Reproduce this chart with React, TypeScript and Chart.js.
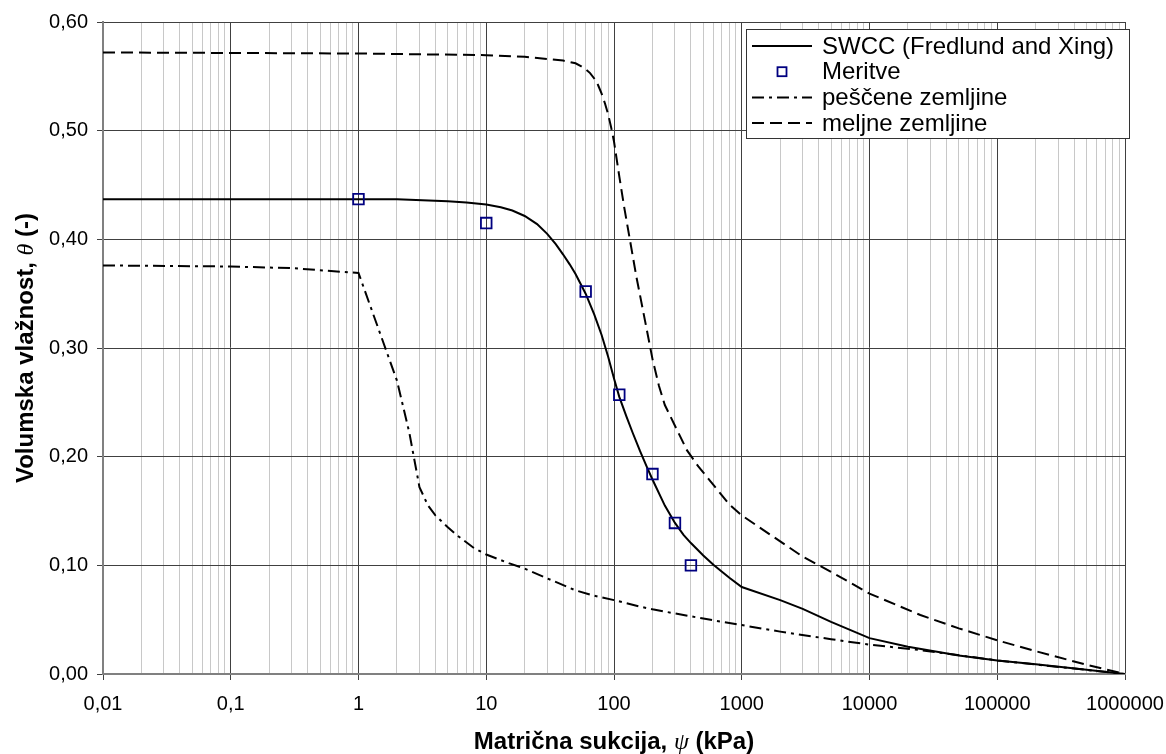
import React, { useEffect, useRef } from 'react';
import { Chart, registerables } from 'chart.js';

Chart.register(...registerables);

// ---- data ----
const swccX = [0.01, 0.1, 1, 2, 5, 7, 10, 13, 16, 20, 25, 30, 35, 40, 45, 50, 60, 70, 80, 90, 100, 110, 125, 140, 160, 180, 200, 250, 300, 350, 400, 500, 600, 700, 800, 1000, 2000, 3000, 5000, 10000, 20000, 50000, 100000, 200000, 500000, 1000000];
const swccY = [0.437, 0.437, 0.437, 0.437, 0.435, 0.434, 0.432, 0.4295, 0.4265, 0.4215, 0.414, 0.405, 0.3955, 0.386, 0.377, 0.368, 0.350, 0.331, 0.312, 0.292, 0.272, 0.255, 0.237, 0.222, 0.205, 0.191, 0.179, 0.155, 0.139, 0.128, 0.1205, 0.109, 0.1005, 0.094, 0.0885, 0.080, 0.068, 0.060, 0.048, 0.033, 0.025, 0.017, 0.0125, 0.009, 0.004, 0];

const merX = [1, 10, 60, 110, 200, 300, 400];
const merY = [0.437, 0.415, 0.352, 0.257, 0.184, 0.139, 0.100];

const sandX = [0.01, 0.1, 0.3, 1, 2, 2.5, 3, 3.5, 4, 5, 6, 8, 10, 15, 20, 30, 50, 70, 100, 160, 200, 500, 1000, 2000, 5000, 10000, 25000, 100000, 1000000];
const sandY = [0.376, 0.375, 0.3735, 0.369, 0.27, 0.222, 0.172, 0.155, 0.146, 0.135, 0.127, 0.116, 0.110, 0.102, 0.097, 0.088, 0.077, 0.072, 0.068, 0.062, 0.0595, 0.051, 0.045, 0.039, 0.032, 0.027, 0.022, 0.0125, 0];

const siltX = [0.01, 0.1, 1, 10, 20, 30, 40, 50, 55, 60, 65, 70, 75, 80, 85, 90, 95, 100, 110, 120, 133, 150, 175, 200, 225, 250, 300, 372, 457, 600, 800, 1000, 2000, 3000, 5000, 10000, 25000, 50000, 100000, 200000, 500000, 1000000];
const siltY = [0.572, 0.5715, 0.571, 0.5695, 0.568, 0.566, 0.5645, 0.562, 0.5595, 0.5565, 0.553, 0.548, 0.542, 0.534, 0.525, 0.515, 0.503, 0.490, 0.458, 0.43, 0.40, 0.365, 0.325, 0.290, 0.265, 0.2475, 0.2285, 0.206, 0.191, 0.174, 0.156, 0.146, 0.122, 0.108, 0.094, 0.074, 0.0543, 0.042, 0.031, 0.021, 0.0085, 0];

const legendLabels = ['SWCC (Fredlund and Xing)', 'Meritve', 'peščene zemljine', 'meljne zemljine'];
const xTitleParts = ['Matrična sukcija, ', 'ψ', ' (kPa)'];
const yTitleParts = ['Volumska vlažnost, ', 'θ', ' (-)'];

const X_MIN = 0.01;
const X_MAX = 1000000;
const Y_MIN = 0;
const Y_MAX = 0.6;
const Y_STEP = 0.1;

const FONT = "'Liberation Sans', Arial, sans-serif";

function buildLogTicks(min: number, max: number): number[] {
  const out: number[] = [];
  const e0 = Math.round(Math.log10(min));
  const e1 = Math.round(Math.log10(max));
  for (let e = e0; e <= e1; e++) {
    for (let m = 1; m <= 9; m++) {
      const v = Number((m * Math.pow(10, e)).toPrecision(12));
      if (v >= min - 1e-12 && v <= max + 1e-6) out.push(v);
    }
  }
  return out;
}
const xTickValues = buildLogTicks(X_MIN, X_MAX);

const isMajor = (v: number) => {
  const l = Math.log10(v);
  return Math.abs(l - Math.round(l)) < 1e-6;
};
const fmtX = (v: number) => (v < 1 ? String(v).replace('.', ',') : String(Math.round(v)));

const zip = (xs: number[], ys: number[]) => xs.map((x, i) => ({ x, y: ys[i] }));

function drawMixed(ctx: CanvasRenderingContext2D, parts: string[], fonts: string[], cx: number, cy: number) {
  const widths = parts.map((p, i) => {
    ctx.font = fonts[i];
    return ctx.measureText(p).width;
  });
  const total = widths.reduce((a, b) => a + b, 0);
  let x = cx - total / 2;
  parts.forEach((p, i) => {
    ctx.font = fonts[i];
    ctx.fillText(p, x, cy);
    x += widths[i];
  });
}

const overlayPlugin = {
  id: 'overlay',
  afterDraw(chart: any) {
    const ctx: CanvasRenderingContext2D = chart.ctx;
    const a = chart.chartArea;
    const ds = chart.data.datasets;
    ctx.save();
    ctx.fillStyle = '#000';
    ctx.textAlign = 'left';
    ctx.textBaseline = 'alphabetic';

    // axis titles
    const tf = ['bold 24px ' + FONT, "italic 24px 'Liberation Serif', serif", 'bold 24px ' + FONT];
    drawMixed(ctx, xTitleParts, tf, (a.left + a.right) / 2, 749);
    ctx.save();
    ctx.translate(33, (a.top + a.bottom) / 2);
    ctx.rotate(-Math.PI / 2);
    drawMixed(ctx, yTitleParts, tf, 0, 0);
    ctx.restore();

    // legend
    const lx = a.right - 379;
    const ly = a.top + 7;
    const lw = 383;
    const lh = 109;
    ctx.fillStyle = '#fff';
    ctx.fillRect(lx, ly, lw, lh);
    ctx.strokeStyle = '#333';
    ctx.lineWidth = 1;
    ctx.strokeRect(lx + 0.5, ly + 0.5, lw, lh);
    const order = [1, 0, 2, 3];
    ctx.font = '24px ' + FONT;
    ctx.textBaseline = 'middle';
    legendLabels.forEach((lab, i) => {
      const d = ds[order[i]];
      const cy = ly + 17 + i * 25.7;
      if (d.showLine === false) {
        ctx.strokeStyle = d.borderColor;
        ctx.lineWidth = d.borderWidth;
        ctx.setLineDash([]);
        ctx.strokeRect(lx + 36 - 4.5, cy - 4.5, 9, 9);
      } else {
        ctx.strokeStyle = d.borderColor;
        ctx.lineWidth = d.borderWidth;
        ctx.setLineDash(d.borderDash || []);
        ctx.beginPath();
        ctx.moveTo(lx + 6, cy);
        ctx.lineTo(lx + 66, cy);
        ctx.stroke();
        ctx.setLineDash([]);
      }
      ctx.fillStyle = '#000';
      ctx.fillText(lab, lx + 76, cy + 1);
    });
    ctx.restore();
  },
};

export default function App() {
  const ref = useRef<HTMLCanvasElement | null>(null);
  useEffect(() => {
    if (!ref.current) return;
    const chart = new Chart(ref.current, {
      type: 'line',
      data: {
        datasets: [
          {
            label: legendLabels[1],
            data: zip(merX, merY),
            showLine: false,
            pointStyle: 'rect',
            pointRadius: 7.5,
            borderWidth: 1.8,
            borderColor: '#000080',
            backgroundColor: 'rgba(0,0,0,0)',
            order: 0,
          },
          {
            label: legendLabels[0],
            data: zip(swccX, swccY),
            borderColor: '#000',
            borderWidth: 2,
            pointRadius: 0,
            tension: 0,
            order: 1,
          },
          {
            label: legendLabels[2],
            data: zip(sandX, sandY),
            borderColor: '#000',
            borderWidth: 2,
            borderDash: [12, 5, 3, 5],
            pointRadius: 0,
            tension: 0,
            order: 1,
          },
          {
            label: legendLabels[3],
            data: zip(siltX, siltY),
            borderColor: '#000',
            borderWidth: 2,
            borderDash: [12, 6],
            pointRadius: 0,
            tension: 0,
            order: 1,
          },
        ] as any,
      },
      options: {
        animation: false,
        responsive: false,
        layout: { padding: { top: 22, right: 41, left: 0, bottom: 0 } },
        plugins: { legend: { display: false }, tooltip: { enabled: false } },
        scales: {
          x: {
            type: 'logarithmic',
            min: X_MIN,
            max: X_MAX,
            afterBuildTicks: (s: any) => {
              s.ticks = xTickValues.map((v) => ({ value: v }));
            },
            afterFit: (s: any) => {
              s.height = 80;
              s.paddingLeft = 0;
              s.paddingRight = 0;
            },
            ticks: {
              autoSkip: false,
              maxRotation: 0,
              padding: 12,
              color: '#000',
              font: { family: FONT, size: 20 },
              callback: (v: any) => (isMajor(Number(v)) ? fmtX(Number(v)) : ''),
            },
            grid: {
              color: (c: any) => (c.tick && isMajor(c.tick.value) ? '#404040' : '#c8c8c8'),
              tickColor: (c: any) => (c.tick && isMajor(c.tick.value) ? '#404040' : 'rgba(0,0,0,0)'),
              lineWidth: 1,
              tickLength: 6,
            },
            border: { color: '#808080', width: 2 },
          },
          y: {
            type: 'linear',
            min: Y_MIN,
            max: Y_MAX,
            afterFit: (s: any) => {
              s.width = 103;
              s.paddingTop = 0;
              s.paddingBottom = 0;
            },
            ticks: {
              stepSize: Y_STEP,
              padding: 9,
              color: '#000',
              font: { family: FONT, size: 20 },
              callback: (v: any) => Number(v).toFixed(2).replace('.', ','),
            },
            grid: { color: '#404040', tickColor: '#404040', lineWidth: 1, tickLength: 6 },
            border: { color: '#808080', width: 2 },
          },
        },
      } as any,
      plugins: [overlayPlugin as any],
    });
    return () => chart.destroy();
  }, []);
  return (
    <div style={{ position: 'absolute', left: 0, top: 0, width: 1166, height: 754, background: '#fff' }}>
      <canvas ref={ref} width={1166} height={754} style={{ display: 'block' }} />
    </div>
  );
}
